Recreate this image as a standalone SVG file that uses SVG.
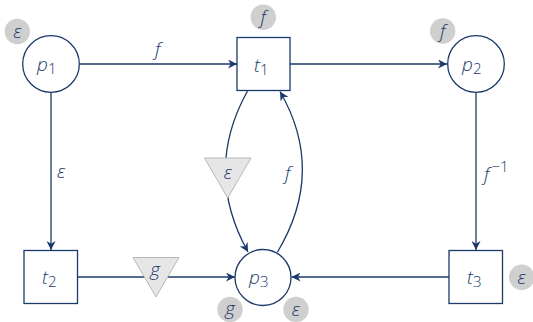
<svg xmlns="http://www.w3.org/2000/svg" width="533" height="322" viewBox="0 0 533 322">
<defs>
<marker id="arr" viewBox="0 0 10 10" refX="10" refY="5" markerWidth="9" markerHeight="9" markerUnits="userSpaceOnUse" orient="auto">
<path d="M0,0 L10,5 L0,10 L3,5 Z" fill="#1b3a6a"/>
</marker>
<style>
.e{fill:none;stroke:#1b3a6a;stroke-width:1.3}
.n{fill:#fff;stroke:#1b3a6a;stroke-width:1.3}
.b{fill:#cfcfcf}
.tri{fill:#e6e6e6;stroke:#b8b8b8;stroke-width:1}
text{font-family:"Open Sans","DejaVu Sans",sans-serif;font-weight:300;fill:#1b3a6a;font-size:19px}
.m{font-style:italic}
.s{font-size:15px;font-style:normal}
.c{text-anchor:middle}
</style>
</defs>
<g id="connectors">
<line class="e" x1="79.5" y1="64" x2="237" y2="64" marker-end="url(#arr)"/>
<line class="e" x1="290" y1="64" x2="447" y2="64" marker-end="url(#arr)"/>
<line class="e" x1="51" y1="92.5" x2="51" y2="250" marker-end="url(#arr)"/>
<line class="e" x1="476" y1="92.5" x2="476" y2="250" marker-end="url(#arr)"/>
<line class="e" x1="78" y1="277" x2="235" y2="277" marker-end="url(#arr)"/>
<line class="e" x1="449" y1="277" x2="291.5" y2="277" marker-end="url(#arr)"/>
<path class="e" d="M247.5,91 Q203,171 248,252" marker-end="url(#arr)"/>
<path class="e" d="M277.5,252 Q326,171 280,91.5" marker-end="url(#arr)"/>
<text class="m" x="155" y="56">f</text>
<text class="m" x="57" y="178">ε</text>
<text class="m" x="285" y="180">f</text>
<text class="m" x="484" y="181">f<tspan class="s" dx="2" dy="-9">−1</tspan></text>
</g>
<g id="tri-eps">
<polygon class="tri" points="204.5,158 251,158 227.7,198"/>
<text class="m c" x="228" y="179">ε</text>
</g>
<g id="tri-g">
<polygon class="tri" points="133,257.5 179,257.5 156,297"/>
<text class="m c" x="155" y="276">g</text>
</g>
<g id="p1">
<circle class="n" cx="51" cy="64" r="28.3"/>
<text class="m" x="37" y="71">p<tspan class="s" dy="3">1</tspan></text>
</g>
<g id="badge-p1"><circle class="b" cx="17.3" cy="31.5" r="12.7"/><text class="m c" x="17.3" y="38">ε</text></g>
<g id="t1">
<rect class="n" x="237" y="37.5" width="53" height="53"/>
<text class="m" x="254" y="72">t<tspan class="s" dy="3">1</tspan></text>
</g>
<g id="badge-t1"><circle class="b" cx="263.3" cy="17.3" r="12.7"/><text class="m c" x="263.3" y="24">f</text></g>
<g id="p2">
<circle class="n" cx="476" cy="64" r="28.3"/>
<text class="m" x="462" y="71">p<tspan class="s" dy="3">2</tspan></text>
</g>
<g id="badge-p2"><circle class="b" cx="442.7" cy="31" r="12.7"/><text class="m c" x="442.7" y="38">f</text></g>
<g id="t2">
<rect class="n" x="24" y="250.5" width="53.5" height="53"/>
<text class="m" x="42" y="284">t<tspan class="s" dy="3">2</tspan></text>
</g>
<g id="p3">
<circle class="n" cx="263" cy="277.5" r="28"/>
<text class="m" x="249" y="284">p<tspan class="s" dy="3">3</tspan></text>
</g>
<g id="badge-p3g"><circle class="b" cx="230" cy="309.5" r="12.7"/><text class="m c" x="230" y="315">g</text></g>
<g id="badge-p3e"><circle class="b" cx="296" cy="309.5" r="12.7"/><text class="m c" x="296" y="316">ε</text></g>
<g id="t3">
<rect class="n" x="449" y="250.5" width="53.5" height="53"/>
<text class="m" x="467" y="284">t<tspan class="s" dy="3">3</tspan></text>
</g>
<g id="badge-t3"><circle class="b" cx="521.7" cy="277.3" r="12.7"/><text class="m c" x="521.7" y="284">ε</text></g>
</svg>
